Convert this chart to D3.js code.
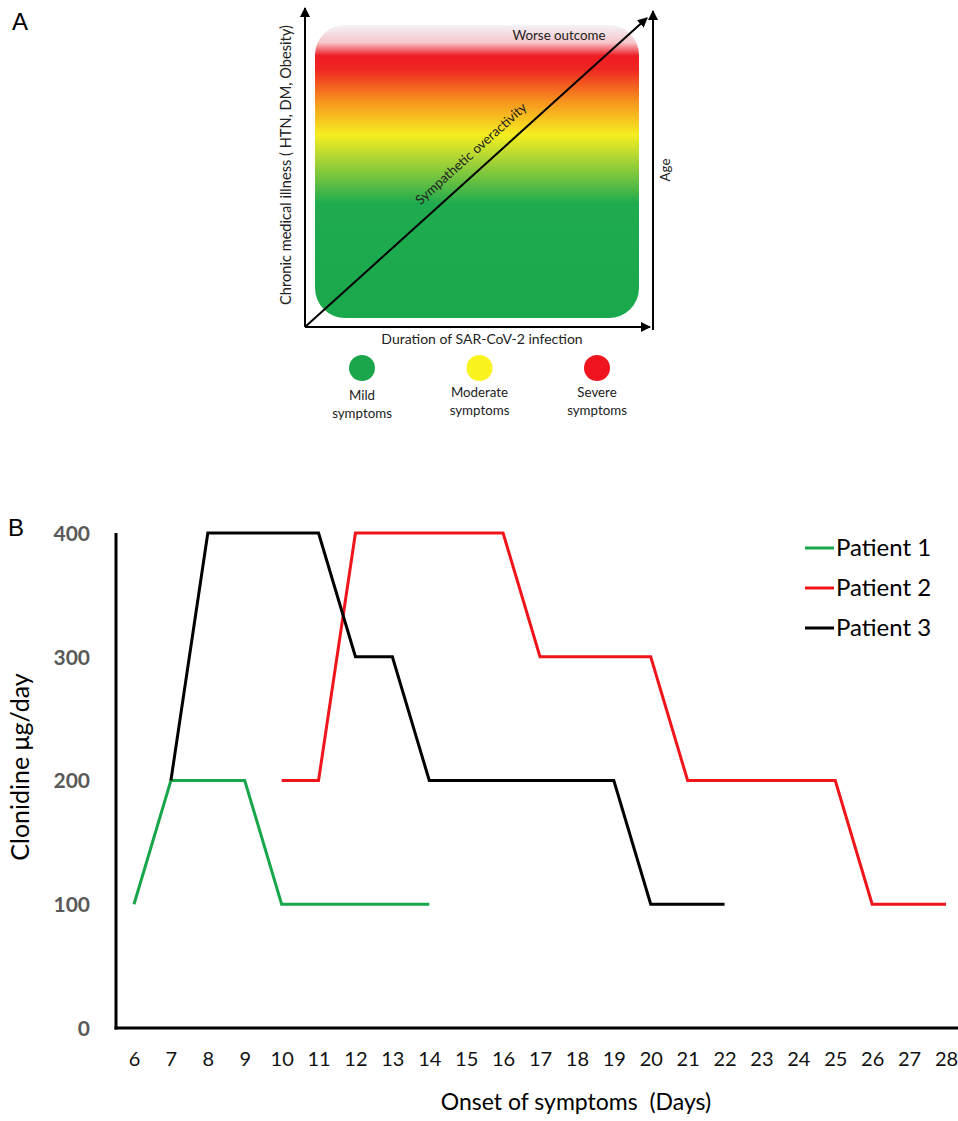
<!DOCTYPE html>
<html>
	<head>
		<title>Clonidine dose chart</title>
		<style>
			body { margin: 0; background: #fff; }
			text { font-family: Lato, "Open Sans", sans-serif; }
			.panel-label { font: 24px "Liberation Sans", Arial, sans-serif; fill: #000; }
			.diag-text { font-size: 13.3px; fill: #222; }
			.tick-y text { font-weight: bold; fill: #595959; font-size: 21px; }
			.tick-x text { fill: #111; font-size: 20px; }
		</style>
	</head>
	<body>
		<script src="https://cdn.jsdelivr.net/npm/d3@7"></script>
		<script>
			// panel B data
			var days = [6, 7, 8, 9, 10, 11, 12, 13, 14, 15, 16, 17, 18, 19, 20, 21, 22, 23, 24, 25, 26, 27, 28];
			var yTicks = [0, 100, 200, 300, 400];
			var patient1Days = [6, 7, 8, 9, 10, 11, 12, 13, 14];
			var patient1Dose = [100, 200, 200, 200, 100, 100, 100, 100, 100];
			var patient2Days = [10, 11, 12, 13, 14, 15, 16, 17, 18, 19, 20, 21, 22, 23, 24, 25, 26, 27, 28];
			var patient2Dose = [200, 200, 400, 400, 400, 400, 400, 300, 300, 300, 300, 200, 200, 200, 200, 200, 100, 100, 100];
			var patient3Days = [7, 8, 9, 10, 11, 12, 13, 14, 15, 16, 17, 18, 19, 20, 21, 22];
			var patient3Dose = [200, 400, 400, 400, 400, 300, 300, 200, 200, 200, 200, 200, 200, 100, 100, 100];
			var seriesNames = ["Patient 1", "Patient 2", "Patient 3"];
			var seriesColors = ["#17a64a", "#f0141b", "#000000"];

			// panel A legend
			var severityLabels = [["Mild", "symptoms"], ["Moderate", "symptoms"], ["Severe", "symptoms"]];
			var severityColors = ["#1ba64b", "#f8f31f", "#f0141e"];

			var width = 958;
			var height = 1121;
			var svg = d3.select('body').append('svg')
						.attr('width', width)
						.attr('height', height);

			var defs = svg.append('defs');
			var marker = defs.append('marker')
				.attr('id', 'arrow')
				.attr('viewBox', '0 0 10 10')
				.attr('refX', 9).attr('refY', 5)
				.attr('markerWidth', 5).attr('markerHeight', 5)
				.attr('orient', 'auto');
			marker.append('path').attr('d', 'M0,0 L10,5 L0,10 z').attr('fill', '#000');

			// ---------- Panel A ----------
			svg.append('text').attr('class', 'panel-label').attr('x', 12).attr('y', 30).text('A');

			var grad = defs.append('linearGradient')
				.attr('id', 'sev').attr('x1', 0).attr('y1', 0).attr('x2', 0).attr('y2', 1);
			var stops = [
				[0, '#f3f4f9'], [0.06, '#f6c6c9'], [0.105, '#ee1c25'], [0.15, '#ef2522'],
				[0.26, '#f7931e'], [0.375, '#f6ee20'], [0.46, '#a9d435'], [0.61, '#1fab4e'], [1, '#1aa84c']
			];
			grad.selectAll('stop').data(stops).enter().append('stop')
				.attr('offset', function(d) { return d[0]; })
				.attr('stop-color', function(d) { return d[1]; });

			var ax = 305, ay = 327;
			svg.append('rect')
				.attr('x', 315).attr('y', 25)
				.attr('width', 324).attr('height', 293)
				.attr('rx', 30).attr('ry', 30)
				.attr('fill', 'url(#sev)');

			var arrows = [
				[ax, ay, ax, 8],
				[ax, ay, 650, ay],
				[653, 330, 653, 11],
				[ax, ay, 647, 18]
			];
			svg.selectAll('line.arrow').data(arrows).enter().append('line')
				.attr('class', 'arrow')
				.attr('x1', function(d) { return d[0]; })
				.attr('y1', function(d) { return d[1]; })
				.attr('x2', function(d) { return d[2]; })
				.attr('y2', function(d) { return d[3]; })
				.attr('stroke', '#000').attr('stroke-width', 2)
				.attr('marker-end', 'url(#arrow)');

			svg.append('text').attr('class', 'diag-text')
				.attr('x', 559).attr('y', 40).attr('text-anchor', 'middle')
				.text('Worse outcome');

			var ang = Math.atan2(18 - ay, 647 - ax) * 180 / Math.PI;
			svg.append('text').attr('class', 'diag-text')
				.attr('transform', 'translate(474,157) rotate(' + ang + ')')
				.attr('text-anchor', 'middle')
				.text('Sympathetic overactivity');

			svg.append('text').attr('class', 'diag-text')
				.attr('transform', 'translate(291,165) rotate(-90)')
				.attr('text-anchor', 'middle')
				.style('font-size', '14.6px')
				.text('Chronic medical illness ( HTN, DM, Obesity)');

			svg.append('text').attr('class', 'diag-text')
				.attr('transform', 'translate(670,170) rotate(-90)')
				.attr('text-anchor', 'middle')
				.text('Age');

			svg.append('text').attr('class', 'diag-text')
				.attr('x', 482).attr('y', 344).attr('text-anchor', 'middle')
				.style('font-size', '14px')
				.text('Duration of SAR-CoV-2 infection');

			var sevX = d3.scalePoint().domain([0, 1, 2]).range([362, 597]);
			var sev = svg.selectAll('g.sev').data(severityLabels).enter().append('g')
				.attr('class', 'sev')
				.attr('transform', function(d, i) { return 'translate(' + sevX(i) + ',0)'; });
			sev.append('circle').attr('cy', 368).attr('r', 13)
				.attr('fill', function(d, i) { return severityColors[i]; });
			sev.append('text').attr('class', 'diag-text').attr('text-anchor', 'middle')
				.attr('y', function(d, i) { return i === 0 ? 400 : 397; })
				.text(function(d) { return d[0]; });
			sev.append('text').attr('class', 'diag-text').attr('text-anchor', 'middle')
				.attr('y', function(d, i) { return i === 0 ? 418 : 415; })
				.text(function(d) { return d[1]; });

			// ---------- Panel B ----------
			svg.append('text').attr('class', 'panel-label').attr('x', 8).attr('y', 536).text('B');

			var x = d3.scaleLinear().domain([6, 28]).range([134, 946]);
			var y = d3.scaleLinear().domain([0, 400]).range([1028, 533]);
			var axisX0 = 116;

			var gy = svg.append('g').attr('class', 'tick-y')
				.attr('transform', 'translate(' + axisX0 + ',0)')
				.call(d3.axisLeft(y).tickValues(yTicks).tickSize(0).tickPadding(26));
			gy.select('.domain').remove();
			gy.selectAll('text').attr('dy', '0.35em');

			var gx = svg.append('g').attr('class', 'tick-x')
				.attr('transform', 'translate(0,' + y(0) + ')')
				.call(d3.axisBottom(x).tickValues(days).tickFormat(d3.format('d')).tickSize(0).tickPadding(24));
			gx.select('.domain').remove();

			svg.append('line')
				.attr('x1', axisX0).attr('x2', axisX0)
				.attr('y1', y(400)).attr('y2', y(0) + 1.5)
				.attr('stroke', '#000').attr('stroke-width', 3);
			svg.append('line')
				.attr('x1', axisX0 - 1.5).attr('x2', width)
				.attr('y1', y(0)).attr('y2', y(0))
				.attr('stroke', '#000').attr('stroke-width', 3);

			var series = [
				d3.zip(patient1Days, patient1Dose),
				d3.zip(patient2Days, patient2Dose),
				d3.zip(patient3Days, patient3Dose)
			];
			var line = d3.line()
				.x(function(d) { return x(d[0]); })
				.y(function(d) { return y(d[1]); });

			svg.selectAll('path.series').data(series).enter().append('path')
				.attr('class', 'series')
				.attr('d', line)
				.attr('fill', 'none')
				.attr('stroke', function(d, i) { return seriesColors[i]; })
				.attr('stroke-width', 3)
				.attr('stroke-linejoin', 'miter');

			svg.append('text')
				.attr('transform', 'translate(29,767) rotate(-90)')
				.attr('text-anchor', 'middle')
				.style('font-size', '25px')
				.text('Clonidine μg/day');

			svg.append('text')
				.attr('x', 576).attr('y', 1110)
				.attr('text-anchor', 'middle')
				.style('font-size', '23px')
				.style('white-space', 'pre')
				.text('Onset of symptoms  (Days)');

			var legend = svg.selectAll('g.legend').data(seriesNames).enter().append('g')
				.attr('class', 'legend')
				.attr('transform', function(d, i) { return 'translate(805,' + (548 + i * 40) + ')'; });
			legend.append('line').attr('x1', 0).attr('x2', 29)
				.attr('stroke', function(d, i) { return seriesColors[i]; })
				.attr('stroke-width', 3);
			legend.append('text').attr('x', 31).attr('dy', '0.35em')
				.style('font-size', '24px')
				.text(function(d) { return d; });
		</script>
	</body>
</html>
